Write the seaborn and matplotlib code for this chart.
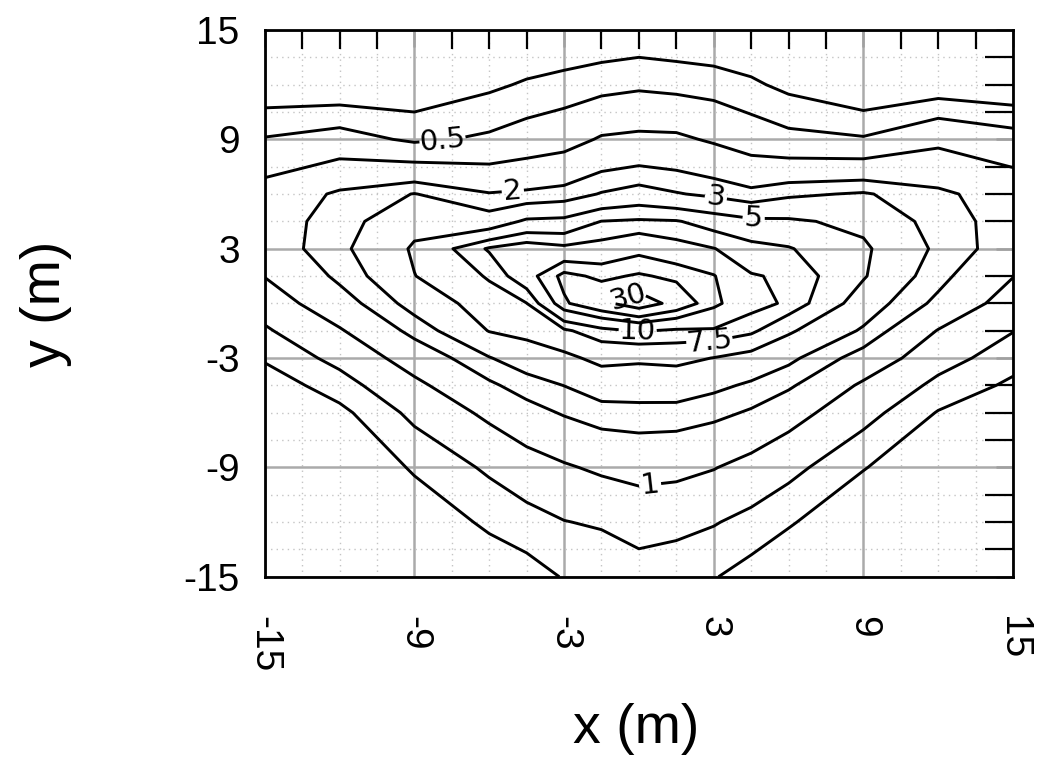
import numpy as np
import pandas as pd
import seaborn as sns
import matplotlib.pyplot as plt
from matplotlib.ticker import MultipleLocator

# grid nodes (m)
x_nodes = [-15, -12, -9, -6, -4.5, -3, -1.5, 0, 1.5, 3, 4.5, 6, 9, 12, 15]
y_nodes = [15, 12, 9, 6, 4.5, 3, 1.5, 0, -1.5, -3, -4.5, -6, -9, -12, -15]

# field values, one list per y node (top to bottom)
row_p15 = [0.16, 0.14, 0.14, 0.16, 0.17, 0.18, 0.19, 0.20, 0.19, 0.18, 0.17, 0.14, 0.14, 0.14, 0.15]
row_p12 = [0.20, 0.19, 0.20, 0.27, 0.32, 0.36, 0.41, 0.45, 0.42, 0.39, 0.33, 0.26, 0.18, 0.21, 0.19]
row_p9 = [0.52, 0.65, 0.45, 0.55, 0.66, 0.77, 1.07, 1.15, 1.13, 0.92, 0.71, 0.59, 0.53, 0.86, 0.64]
row_p6 = [1.32, 2.18, 3.05, 2.06, 2.19, 2.39, 3.10, 3.63, 3.10, 2.73, 2.29, 2.76, 3.15, 2.22, 1.52]
row_p4_5 = [1.50, 2.50, 4.30, 3.75, 5.40, 5.60, 7.55, 7.90, 7.70, 6.40, 5.50, 5.35, 4.45, 2.50, 1.60]
row_p3 = [1.45, 2.70, 5.30, 10.4, 12.0, 10.8, 11.4, 13.5, 11.4, 10.1, 8.40, 7.70, 5.40, 2.75, 1.50]
row_p1_5 = [1.02, 2.24, 4.95, 7.80, 12.9, 22.0, 18.6, 20.8, 18.6, 15.3, 10.2, 9.60, 5.20, 2.35, 1.02]
row_0 = [0.68, 1.57, 3.62, 6.30, 7.45, 19.0, 27.0, 38.0, 26.0, 16.3, 11.3, 9.50, 3.97, 1.77, 0.72]
row_m1_5 = [0.46, 0.94, 2.35, 5.10, 5.70, 7.10, 9.05, 10.3, 9.50, 9.60, 8.10, 5.35, 2.83, 0.97, 0.51]
row_m3 = [0.32, 0.60, 1.37, 2.93, 3.87, 4.50, 5.65, 5.40, 5.60, 4.95, 4.25, 3.36, 1.61, 0.64, 0.37]
row_m4_5 = [0.22, 0.39, 0.86, 1.83, 2.48, 3.02, 3.76, 3.72, 3.80, 3.33, 2.80, 2.18, 0.90, 0.43, 0.27]
row_m6 = [0.16, 0.26, 0.58, 1.16, 1.64, 2.10, 2.56, 2.64, 2.60, 2.30, 1.88, 1.32, 0.62, 0.29, 0.20]
row_m9 = [0.13, 0.18, 0.32, 0.55, 0.74, 0.93, 1.12, 1.25, 1.20, 1.03, 0.80, 0.60, 0.31, 0.18, 0.16]
row_m12 = [0.11, 0.15, 0.21, 0.33, 0.40, 0.49, 0.54, 0.65, 0.60, 0.52, 0.42, 0.32, 0.18, 0.15, 0.14]
row_m15 = [0.10, 0.13, 0.16, 0.21, 0.24, 0.31, 0.31, 0.38, 0.35, 0.31, 0.24, 0.18, 0.14, 0.13, 0.13]

levels = [0.3, 0.5, 1, 2, 3, 5, 7.5, 10, 15, 20, 30]

# labelled contours and where their labels sit
label_levels = [0.5, 2, 3, 5, 1, 30, 10, 7.5]
label_spots = [(-7.85, 8.6), (-5.05, 6.1), (3.1, 5.95), (4.6, 4.74),
               (0.45, -9.96), (-0.35, 0.1), (0.0, -1.1), (2.85, -2.6)]

rows = [row_p15, row_p12, row_p9, row_p6, row_p4_5, row_p3, row_p1_5, row_0,
        row_m1_5, row_m3, row_m4_5, row_m6, row_m9, row_m12, row_m15]
df = pd.DataFrame(rows, index=y_nodes, columns=x_nodes).sort_index()

sns.set_style("white")
plt.rcParams['font.family'] = ['Liberation Sans', 'DejaVu Sans']
plt.rcParams['axes.unicode_minus'] = False
plt.rcParams['text.color'] = 'black'
plt.rcParams['axes.labelcolor'] = 'black'

fig = plt.figure(figsize=(10.38, 7.69), dpi=100)
ax = fig.add_axes([0.255, 0.250, 0.721, 0.711])

X, Y = np.meshgrid(df.columns.values.astype(float), df.index.values.astype(float))
Z = np.log10(df.values)
line_kw = dict(colors='black', linewidths=2.1, linestyles='solid')

plain = [l for l in levels if l not in label_levels]
ax.contour(X, Y, Z, levels=np.log10(plain), **line_kw)

fmt = lambda v: f"{10 ** v:g}"
for lev, spot in zip(label_levels, label_spots):
    cs = ax.contour(X, Y, Z, levels=[np.log10(lev)], **line_kw)
    lbl = cs.clabel(manual=[spot], fmt=fmt, fontsize=21, inline=True, inline_spacing=3)
    for t in lbl:
        t.set_family(['DejaVu Sans'])
        t.set_color('black')

ax.set_xlim(-15, 15)
ax.set_ylim(-15, 15)
ticks = [-15, -9, -3, 3, 9, 15]
ax.set_xticks(ticks)
ax.set_yticks(ticks)
ax.xaxis.set_minor_locator(MultipleLocator(1.5))
ax.yaxis.set_minor_locator(MultipleLocator(1.5))

ax.grid(which='major', color='#aaaaaa', lw=1.8, ls='-')
ax.grid(which='minor', color='#c4c4c4', lw=1.0, ls=(0, (1, 3)))
ax.set_axisbelow(True)

ax.tick_params(which='major', direction='in', length=12, width=1.8, color='#a0a0a0',
               top=True, right=True, labelsize=28, labelcolor='black')
ax.tick_params(which='minor', direction='in', width=1.6, color='black',
               top=True, right=True)
ax.tick_params(axis='x', which='minor', length=14)
ax.tick_params(axis='y', which='minor', length=20)
ax.tick_params(axis='x', which='major', pad=28, labelrotation=-90)
ax.tick_params(axis='y', which='major', pad=18)

for sp in ax.spines.values():
    sp.set_color('black')
    sp.set_linewidth(2)

ax.set_xlabel('x (m)', fontsize=40)
ax.set_ylabel('y (m)', fontsize=40)
ax.xaxis.set_label_coords(0.497, -0.23)
ax.yaxis.set_label_coords(-0.258, 0.5)

fig.savefig('out.png', dpi=100)
